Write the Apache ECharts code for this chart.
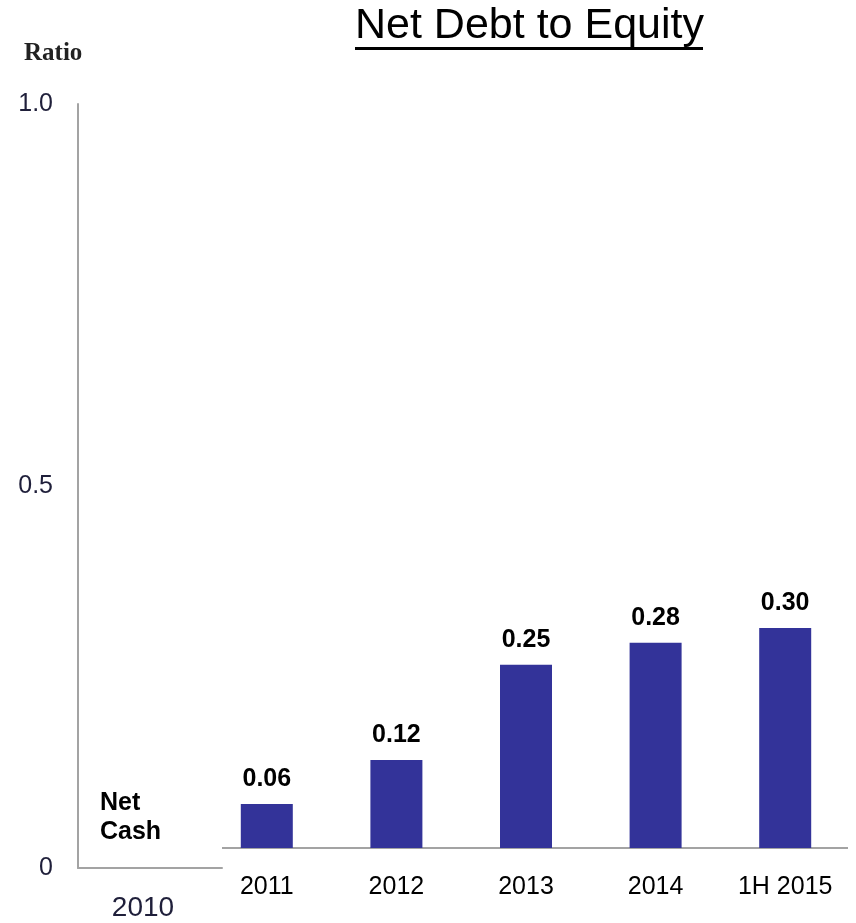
<!DOCTYPE html>
<html>
<head>
<meta charset="utf-8">
<script src="https://cdn.jsdelivr.net/npm/echarts@6/dist/echarts.min.js"></script>
<style>
  html, body { margin: 0; padding: 0; background: #fff; }
  #chart { width: 856px; height: 923px; }
</style>
</head>
<body>
<div id="chart"></div>
<script>
// Net debt to equity by period
const netCashCategory = ['2010'];
const periods = ['2011', '2012', '2013', '2014', '1H 2015'];
const ratios = [0.06, 0.12, 0.25, 0.28, 0.30];
const ratioTicks = [0, 0.5, 1.0];
const tickLabels = ['0', '0.5', '1.0'];

const SANS = '"Liberation Sans", Arial, sans-serif';
const SERIF = '"Liberation Serif", "Times New Roman", serif';
const AXIS_GREY = '#a3a3a3';
const BAR_BLUE = '#333399';
const TICK_INK = '#1f1f3a';

const chart = echarts.init(document.getElementById('chart'), null, { renderer: 'canvas' });

const option = {
  animation: false,
  backgroundColor: '#fff',
  title: {
    text: 'Net Debt to Equity',
    left: 355,
    top: 5,
    padding: 0,
    textStyle: { fontFamily: SANS, fontSize: 43, fontWeight: 'normal', color: '#000' }
  },
  grid: [
    // left panel: ratio scale and the 2010 (net cash) column
    { left: 78, top: 104, width: 144, bottom: 55 },
    // right panel: the bar columns
    { left: 202, top: 115, right: 6, bottom: 75 }
  ],
  xAxis: [
    {
      gridIndex: 0,
      type: 'category',
      data: netCashCategory,
      axisLine: { show: true, lineStyle: { color: AXIS_GREY, width: 2 } },
      axisTick: { show: false },
      axisLabel: { color: TICK_INK, fontFamily: SANS, fontSize: 28, margin: 26, padding: [0, 14, 0, 0] }
    },
    {
      gridIndex: 1,
      type: 'category',
      data: periods,
      axisLine: { show: false },
      axisTick: { show: false },
      axisLabel: { color: '#000', fontFamily: SANS, fontSize: 25, margin: 27 }
    }
  ],
  yAxis: [
    {
      gridIndex: 0,
      type: 'value',
      min: 0,
      max: 1,
      interval: 0.5,
      axisLine: { show: true, lineStyle: { color: AXIS_GREY, width: 2 } },
      axisTick: { show: false },
      splitLine: { show: false },
      axisLabel: {
        color: TICK_INK,
        fontFamily: SANS,
        fontSize: 25,
        margin: 25,
        formatter: v => {
          const i = ratioTicks.findIndex(t => Math.abs(t - v) < 1e-9);
          return i >= 0 ? tickLabels[i] : '';
        }
      }
    },
    {
      gridIndex: 1,
      type: 'value',
      min: 0,
      max: 1,
      show: false
    }
  ],
  series: [
    {
      type: 'bar',
      xAxisIndex: 1,
      yAxisIndex: 1,
      data: ratios,
      barWidth: 52,
      itemStyle: { color: BAR_BLUE },
      label: {
        show: true,
        position: 'top',
        distance: 12,
        fontFamily: SANS,
        fontSize: 25,
        fontWeight: 'bold',
        color: '#000',
        formatter: p => p.value.toFixed(2)
      }
    }
  ],
  graphic: [
    // underline beneath the title
    { type: 'rect', left: 355, top: 47, shape: { width: 348, height: 3 }, style: { fill: '#000' } },
    // baseline under the bar columns
    { type: 'line', shape: { x1: 222, y1: 848, x2: 848, y2: 848 }, style: { stroke: AXIS_GREY, lineWidth: 2 } },
    // axis title
    {
      type: 'text', left: 24, top: 41,
      style: { text: 'Ratio', font: 'bold 25px ' + SERIF, fill: '#222' }
    },
    // note inside the 2010 column
    {
      type: 'text', left: 100, top: 789,
      style: { text: 'Net\nCash', font: 'bold 25px ' + SANS, fill: '#000', lineHeight: 29 }
    }
  ]
};

chart.setOption(option);
</script>
</body>
</html>
